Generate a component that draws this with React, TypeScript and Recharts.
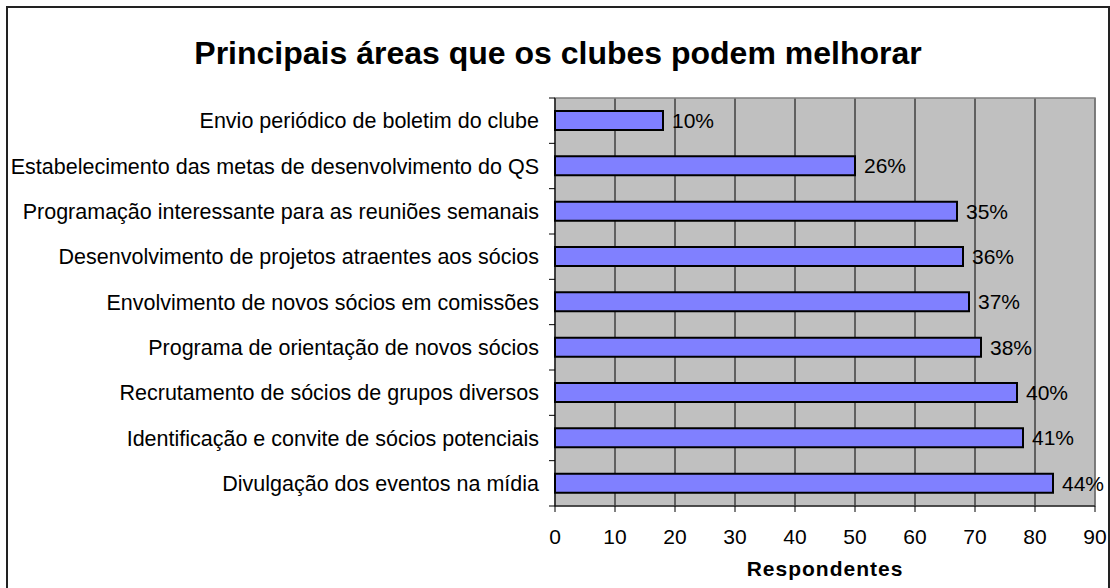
import { BarChart, Bar, XAxis, YAxis, CartesianGrid, LabelList, Label, ReferenceArea } from 'recharts'

const FONT = '"Liberation Sans", Arial, sans-serif'

const areas = [
  'Envio periódico de boletim do clube',
  'Estabelecimento das metas de desenvolvimento do QS',
  'Programação interessante para as reuniões semanais',
  'Desenvolvimento de projetos atraentes aos sócios',
  'Envolvimento de novos sócios em comissões',
  'Programa de orientação de novos sócios',
  'Recrutamento de sócios de grupos diversos',
  'Identificação e convite de sócios potenciais',
  'Divulgação dos eventos na mídia',
]
const respondentes = [18, 50, 67, 68, 69, 71, 77, 78, 83]
const percentuais = [10, 26, 35, 36, 37, 38, 40, 41, 44]
const xTicks = [0, 10, 20, 30, 40, 50, 60, 70, 80, 90]

const data = areas.map((area, i) => ({ area, value: respondentes[i], pct: percentuais[i] }))

const TICK_SIZE = 6
const TICK_MARGIN = 10

// excel style: tick marks sit between the categories, not on them
function CategoryTick(props: any) {
  const { x, y, payload, index, visibleTicksCount } = props
  const axisX = x + TICK_SIZE + TICK_MARGIN
  const half = payload.offset || 0
  const last = index === visibleTicksCount - 1
  return (
    <g>
      <line x1={axisX - TICK_SIZE} x2={axisX} y1={y - half} y2={y - half} stroke="#000" />
      {last && <line x1={axisX - TICK_SIZE} x2={axisX} y1={y + half} y2={y + half} stroke="#000" />}
      <text x={x} y={y} dy="0.355em" textAnchor="end" fill="#000" fontSize={21.5} fontFamily={FONT}>
        {payload.value}
      </text>
    </g>
  )
}

export default function App() {
  return (
    <div style={{ position: 'absolute', left: 0, top: 0, width: 1110, height: 588, overflow: 'hidden', background: '#fff', fontFamily: FONT }}>
      <div style={{ position: 'absolute', left: 6, top: 6, width: 1100, height: 600, border: '2px solid #222' }} />
      <div style={{ position: 'absolute', left: 0, top: 35, width: 1116, textAlign: 'center', fontSize: 32, fontWeight: 'bold', color: '#000' }}>
        Principais áreas que os clubes podem melhorar
      </div>
      <div style={{ position: 'absolute', left: 0, top: 0 }}>
        <BarChart width={1110} height={588} data={data} layout="vertical" barSize={19}
          margin={{ top: 98, right: 15, bottom: 0, left: 10 }}>
          <CartesianGrid horizontal={false} stroke="#000" fill="#c0c0c0" fillOpacity={1} />
          <ReferenceArea x1={0} x2={90} yAxisId="cat" fill="none" stroke="#808080" strokeWidth={1.5} />
          <XAxis type="number" domain={[0, 90]} ticks={xTicks} interval={0} height={82}
            axisLine={{ stroke: '#000' }} tickLine={{ stroke: '#000' }} tickSize={6} tickMargin={17}
            tick={{ fill: '#000', fontSize: 21, fontFamily: FONT }}>
            <Label value="Respondentes" position="insideBottom" offset={12}
              style={{ fill: '#000', fontSize: 21, fontWeight: 'bold', fontFamily: FONT, letterSpacing: 1 }} />
          </XAxis>
          <YAxis yAxisId="cat" type="category" dataKey="area" width={545} interval={0}
            axisLine={{ stroke: '#000' }} tickLine={false} tickSize={TICK_SIZE} tickMargin={TICK_MARGIN}
            tick={<CategoryTick />} />
          <Bar dataKey="value" yAxisId="cat" fill="#8080ff" stroke="#000" strokeWidth={2} isAnimationActive={false}>
            <LabelList dataKey="pct" position="right" offset={9} formatter={(v: any) => `${v}%`}
              style={{ fill: '#000', fontSize: 21, fontFamily: FONT }} />
          </Bar>
        </BarChart>
      </div>
    </div>
  )
}
